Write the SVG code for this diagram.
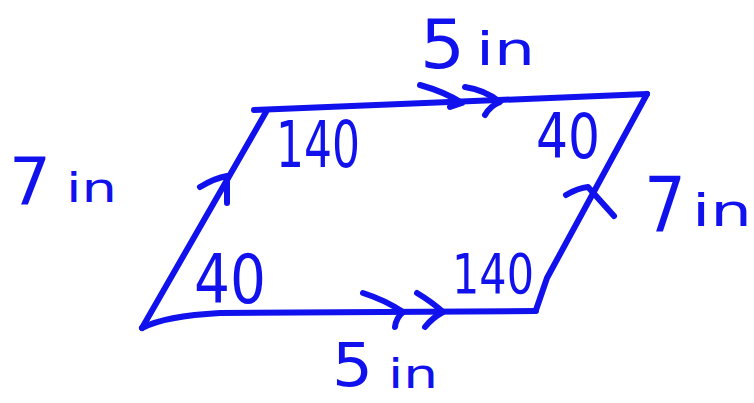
<svg xmlns="http://www.w3.org/2000/svg" width="754" height="403" viewBox="0 0 754 403">
<style>
.ink{fill:none;stroke:#1111ee;stroke-width:6;stroke-linecap:round;stroke-linejoin:round}
.lbl{fill:#1111ee;font-family:"DejaVu Sans","Liberation Sans",sans-serif}
</style>
<rect width="754" height="403" fill="#ffffff"/>
<g id="parallelogram">
<path class="ink" d="M142 328 L266 112"/>
<path class="ink" d="M254 110 C400 104 550 97 647 94"/>
<path class="ink" d="M647 94 L547 278 L536 310"/>
<path class="ink" d="M142 328 Q165 316 220 313 L536 311"/>
</g>
<g id="connectors">
<path class="ink" d="M200 187 Q215 178 227 176 L227 203"/>
<path class="ink" d="M566 195 Q578 188 588 187 L614 216"/>
<path class="ink" d="M420 85 Q445 92 462 103 L450 107"/>
<path class="ink" d="M465 87 Q485 90 500 102 Q490 106 485 115"/>
<path class="ink" d="M363 293 Q385 300 403 312 Q396 318 395 327"/>
<path class="ink" d="M417 293 Q432 302 443 312 Q432 318 425 327"/>
</g>
<g id="angles">
<text class="lbl" x="276" y="167" font-size="64" textLength="84" lengthAdjust="spacingAndGlyphs">140</text>
<text class="lbl" x="536" y="158" font-size="62" textLength="64" lengthAdjust="spacingAndGlyphs">40</text>
<text class="lbl" x="194" y="303" font-size="68" textLength="72" lengthAdjust="spacingAndGlyphs">40</text>
<text class="lbl" x="452" y="293" font-size="55" textLength="82" lengthAdjust="spacingAndGlyphs">140</text>
</g>
<g id="sides">
<text class="lbl" x="420" y="68" font-size="68" textLength="45" lengthAdjust="spacingAndGlyphs">5</text>
<text class="lbl" x="476" y="65" font-size="46" textLength="59" lengthAdjust="spacingAndGlyphs">in</text>
<text class="lbl" x="9" y="205" font-size="66" textLength="42" lengthAdjust="spacingAndGlyphs">7</text>
<text class="lbl" x="66" y="202" font-size="40" textLength="51" lengthAdjust="spacingAndGlyphs">in</text>
<text class="lbl" x="644" y="232" font-size="76" textLength="42" lengthAdjust="spacingAndGlyphs">7</text>
<text class="lbl" x="692" y="226" font-size="44" textLength="60" lengthAdjust="spacingAndGlyphs">in</text>
<text class="lbl" x="332" y="386" font-size="60" textLength="41" lengthAdjust="spacingAndGlyphs">5</text>
<text class="lbl" x="388" y="388" font-size="40" textLength="50" lengthAdjust="spacingAndGlyphs">in</text>
</g>
</svg>
